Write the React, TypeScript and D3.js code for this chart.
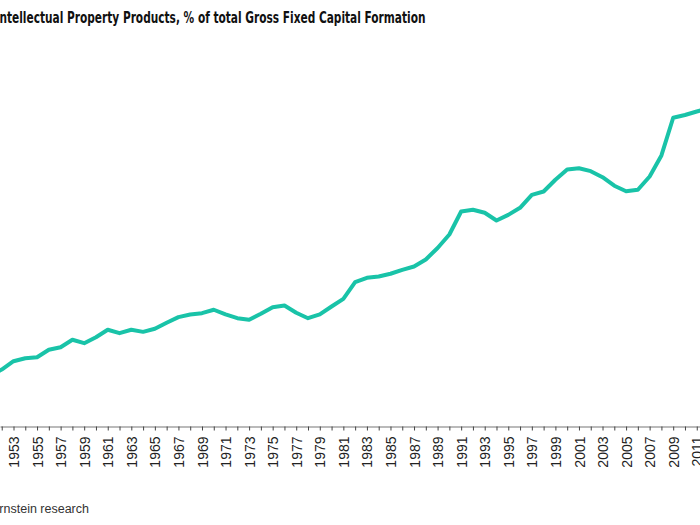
import * as d3 from 'd3';
import { useEffect, useRef } from 'react';

// Intellectual Property Products, % of total Gross Fixed Capital Formation
const years = d3.range(1951, 2013);
const ippShare = [
  3.92, 4.38, 5.02, 5.25, 5.33, 5.9, 6.1, 6.67, 6.41, 6.87,
  7.44, 7.18, 7.44, 7.28, 7.52, 7.98, 8.41, 8.62, 8.72, 8.98,
  8.62, 8.33, 8.21, 8.67, 9.18, 9.31, 8.75, 8.33, 8.62, 9.23,
  9.82, 11.1, 11.44, 11.54, 11.75, 12.05, 12.31, 12.85, 13.73, 14.77,
  16.54, 16.67, 16.44, 15.85, 16.28, 16.82, 17.82, 18.08, 18.98, 19.77,
  19.87, 19.64, 19.18, 18.52, 18.1, 18.21, 19.23, 20.85, 23.75, 23.96,
  24.23, 24.46,
];
const title = 'Intellectual Property Products, % of total Gross Fixed Capital Formation';
const source = 'Source: BEA, Bernstein research';

function App() {
  const svgRef = useRef<SVGSVGElement>(null);
  const width = 700;
  const height = 525;

  useEffect(() => {
    if (!svgRef.current) {
      return;
    }
    document.body.style.margin = '0';

    const svg = d3.select(svgRef.current);
    svg.selectAll('*').remove();

    // x: the chart is cropped, so stretch the scale over the visible width
    const base = d3.scaleLinear().domain([1953, 2009]).range([13.5, 673.2]);
    const xScale = d3
      .scaleLinear()
      .domain([base.invert(0), base.invert(width)])
      .range([0, width]);

    const axisY = 426.5;
    const yScale = d3.scaleLinear().domain([0, 30]).range([axisY, axisY - 390]);

    // Title (condensed face squeezed to the reference width)
    svg
      .append('text')
      .attr('x', -4.5)
      .attr('y', 22.5)
      .attr('textLength', 430)
      .attr('lengthAdjust', 'spacingAndGlyphs')
      .style('font-family', '"DejaVu Sans Condensed", "Liberation Sans", sans-serif')
      .style('font-stretch', 'condensed')
      .style('font-weight', 'bold')
      .style('font-size', '16px')
      .attr('fill', '#111')
      .text(title);

    // X axis
    const xAxis = d3
      .axisBottom(xScale)
      .tickValues(years)
      .tickSize(4)
      .tickSizeOuter(0)
      .tickFormat((d) => ((d as number) % 2 === 1 ? String(d) : ''));

    const ax = svg
      .append('g')
      .attr('transform', `translate(0,${axisY})`)
      .call(xAxis);

    ax.select('.domain').attr('stroke', '#777').attr('stroke-width', 1.2);
    ax.selectAll('.tick line').attr('stroke', '#444');
    ax.selectAll('.tick text')
      .attr('transform', 'rotate(-90)')
      .attr('text-anchor', 'end')
      .attr('x', -10)
      .attr('y', 0)
      .attr('dy', '0.36em')
      .style('font-family', '"Liberation Sans", Arial, sans-serif')
      .style('font-size', '14px')
      .attr('fill', '#222');

    // Line
    const line = d3
      .line<number>()
      .x((_, i) => xScale(years[i]))
      .y((d) => yScale(d));

    svg
      .append('path')
      .datum(ippShare)
      .attr('fill', 'none')
      .attr('stroke', '#19c3a8')
      .attr('stroke-width', 4)
      .attr('stroke-linejoin', 'round')
      .attr('d', line);

    // Source note
    svg
      .append('text')
      .attr('x', 89)
      .attr('y', 513)
      .attr('text-anchor', 'end')
      .style('font-family', '"Liberation Sans", Arial, sans-serif')
      .style('font-size', '12.5px')
      .attr('fill', '#333')
      .text(source);
  }, []);

  return (
    <svg
      ref={svgRef}
      width={width}
      height={height}
      style={{ position: 'absolute', left: 0, top: 0, background: '#fff' }}
    />
  );
}

export default App;
